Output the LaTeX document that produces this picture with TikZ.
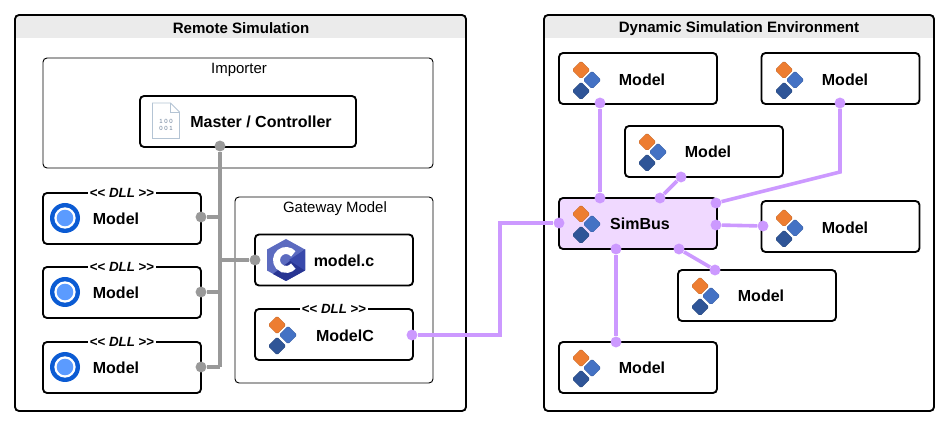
\documentclass[tikz,border=0pt]{standalone}
\usepackage{fontspec}
\setmainfont{Liberation Sans}
\definecolor{headgray}{HTML}{EBEBEB}
\definecolor{wirepurple}{HTML}{CC99FF}
\definecolor{wiregray}{HTML}{999999}
\definecolor{busfill}{HTML}{F0D9FF}
\definecolor{iconorange}{HTML}{ED7D31}
\definecolor{iconblue}{HTML}{4472C4}
\definecolor{icondark}{HTML}{2F5597}
\definecolor{ringblue}{HTML}{0B5BD3}
\definecolor{ringcore}{HTML}{5B9BFF}
\definecolor{cpale}{HTML}{5C6BC0}
\definecolor{cdeep}{HTML}{283593}
\definecolor{cmid}{HTML}{3949AB}
\definecolor{fileline}{HTML}{B4C4D4}
\definecolor{filetext}{HTML}{6A7F99}
\tikzset{
  panel/.style={draw=black, line width=1.4pt, rounded corners=3pt, outer sep=0pt, inner sep=0pt, minimum width=338.25pt, minimum height=297pt},
  group/.style={draw=black, line width=0.7pt, rounded corners=3pt, outer sep=0pt, inner sep=0pt},
  block/.style={draw=black, fill=white, line width=1.4pt, rounded corners=3pt, outer sep=0pt, inner sep=0pt, minimum width=118.5pt, minimum height=38.25pt},
  title/.style={font=\fontsize{11.3pt}{13pt}\selectfont\bfseries},
  caption/.style={font=\fontsize{11.2pt}{13pt}\selectfont},
  label/.style={font=\fontsize{12pt}{14pt}\selectfont\bfseries},
  dlltag/.style={fill=white, inner sep=1.5pt, font=\fontsize{10pt}{12pt}\selectfont\bfseries},
  grayport/.style={circle, fill=wiregray, inner sep=0pt, minimum size=8.2pt},
  purpleport/.style={circle, fill=wirepurple, inner sep=0pt, minimum size=8.2pt},
  graywire/.style={draw=wiregray, line width=2.7pt},
  purplewire/.style={draw=wirepurple, line width=2.7pt},
  pics/diamonds/.style={code={
    \fill[iconorange, draw=iconorange!80!black, line width=0.2pt, rounded corners=1.2pt] (-11,-19) -- (-2,-10) -- (-11,-1) -- (-20,-10) -- cycle;
    \fill[iconblue, draw=iconblue!80!black, line width=0.2pt, rounded corners=1.2pt] (0,-9) -- (9,0) -- (0,9) -- (-9,0) -- cycle;
    \fill[icondark, draw=icondark!80!black, line width=0.2pt, rounded corners=1.2pt] (-11,2) -- (-2,11) -- (-11,20) -- (-20,11) -- cycle;
  }},
  pics/ringicon/.style={code={
    \fill[ringblue] (0,0) circle (11.25pt);
    \fill[white] (0,0) circle (8pt);
    \fill[ringcore] (0,0) circle (6.2pt);
  }}
}
\newcommand{\dllmark}{<{}< \textit{DLL} >{}>}
\begin{document}
\begin{tikzpicture}[x=0.75pt, y=-0.75pt]
  \useasboundingbox (0,0) rectangle (950,427);

  % left panel
  \fill[headgray] (15,38) [rounded corners=3pt] -- (15,15) -- (466,15) [sharp corners] -- (466,38) -- cycle;
  \node (remote) at (240.5,213) [panel] {};
  \node (remotetitle) at (241,28) [title] {Remote Simulation};
  \node (importer) at (238,113) [group, minimum width=292.5pt, minimum height=82.5pt] {};
  \node (importertext) at (239,70) [caption] {Importer};
  \node (gateway) at (334,290) [group, minimum width=148.5pt, minimum height=139.5pt] {};
  \node (gatewaytext) at (335,209) [caption] {Gateway Model};

  % right panel
  \fill[headgray] (544,38) [rounded corners=3pt] -- (544,15) -- (934,15) [sharp corners] -- (934,38) -- cycle;
  \node (dynamic) at (739,213) [panel, minimum width=292.5pt] {};
  \node (dynamictitle) at (739,29) [title] {Dynamic Simulation Environment};

  % left blocks
  \node (master) at (248,121.5) [block, minimum width=162pt] {};
  \node (dllA) at (122,218.5) [block] {};
  \node (dllB) at (122,292.5) [block] {};
  \node (dllC) at (122,367.5) [block] {};
  \node (cfile) at (334,260) [block] {};
  \node (modelc) at (334,334.5) [block] {};

  % right blocks
  \node (modelA) at (638,78.5) [block] {};
  \node (modelB) at (840.5,78.5) [block] {};
  \node (modelC) at (704,151.5) [block] {};
  \node (simbus) at (638,223.5) [block, fill=busfill] {};
  \node (modelD) at (840.5,226.5) [block] {};
  \node (modelE) at (757,295.5) [block] {};
  \node (modelF) at (638,367.5) [block] {};

  \node (mastertext) at (261,122) [label] {Master / Controller};
  \node (dlltextA) at (116,219) [label] {Model};
  \node (dlltextB) at (116,293) [label] {Model};
  \node (dlltextC) at (116,368) [label] {Model};
  \node (cfiletext) at (344,261) [label] {model.c};
  \node (modelctext) at (345,336) [label] {ModelC};
  \node (textA) at (642,80) [label] {Model};
  \node (textB) at (845,80) [label] {Model};
  \node (textC) at (708,152) [label] {Model};
  \node (bustext) at (640,224) [label] {SimBus};
  \node (textD) at (845,228) [label] {Model};
  \node (textE) at (761,296) [label] {Model};
  \node (textF) at (642,368) [label] {Model};

  \node (tagA) at (122,193) [dlltag] {\dllmark};
  \node (tagB) at (122,267) [dlltag] {\dllmark};
  \node (tagC) at (122,342) [dlltag] {\dllmark};
  \node (tagD) at (334,309) [dlltag] {\dllmark};

  % icons
  \pic at (65,218) {ringicon};
  \pic at (65,292) {ringicon};
  \pic at (65,367) {ringicon};
  \pic at (288,335) {diamonds};
  \pic at (592,80) {diamonds};
  \pic at (795,80) {diamonds};
  \pic at (658,152) {diamonds};
  \pic at (592,224) {diamonds};
  \pic at (795,228) {diamonds};
  \pic at (711,296) {diamonds};
  \pic at (592,368) {diamonds};

  % binary file
  \draw[fileline, line width=0.6pt, fill=white] (152.5,103) -- (170.5,103) -- (179.5,112) -- (179.5,138.5) -- (152.5,138.5) -- cycle;
  \draw[fileline, line width=0.6pt] (170.5,103) -- (170.5,112) -- (179.5,112);
  \node (binA) at (166,121) [inner sep=0pt, text=filetext, font=\fontsize{4.5pt}{5pt}\selectfont] {1 0 0};
  \node (binB) at (166,128.5) [inner sep=0pt, text=filetext, font=\fontsize{4.5pt}{5pt}\selectfont] {0 0 1};

  % C logo
  \fill[cpale] (286,239) -- (305,249.5) -- (305,270.5) -- (286,281) -- (267,270.5) -- (267,249.5) -- cycle;
  \fill[cdeep] (305,249.5) -- (305,270.5) -- (286,281) -- (273,274) -- cycle;
  \fill[cmid] (305,249.5) -- (305,270.5) -- (289,260) -- cycle;
  \draw[white, line width=5.2pt] (293.3,253.9) arc[start angle=-40, end angle=-320, radius=9.5];

  % ports
  \node (pmaster) at (220,146) [grayport] {};
  \node (pdllA) at (201,217) [grayport] {};
  \node (pdllB) at (201,292) [grayport] {};
  \node (pdllC) at (201,367) [grayport] {};
  \node (pcfile) at (255,260) [grayport] {};
  \coordinate (trunkend) at (220,367);
  \node (pmodelc) at (412,335) [purpleport] {};
  \node (pbusL) at (559,223) [purpleport] {};
  \coordinate (bendA) at (500,335);
  \coordinate (bendB) at (500,223);
  \node (pA) at (600,103) [purpleport] {};
  \node (pbusA) at (600,198) [purpleport] {};
  \node (pB) at (840,103) [purpleport] {};
  \coordinate (bendC) at (840,172);
  \node (pbusB) at (716,203) [purpleport] {};
  \node (pC) at (681,177) [purpleport] {};
  \node (pbusC) at (660,198) [purpleport] {};
  \node (pD) at (763,226) [purpleport] {};
  \node (pbusD) at (716,225) [purpleport] {};
  \node (pE) at (715,270) [purpleport] {};
  \node (pbusE) at (679,249) [purpleport] {};
  \node (pF) at (616,342) [purpleport] {};
  \node (pbusF) at (616,249) [purpleport] {};

  % connectors
  \draw[graywire] (pmaster) -- (trunkend);
  \draw[graywire] (pdllA) -- (pdllA -| pmaster);
  \draw[graywire] (pdllB) -- (pdllB -| pmaster);
  \draw[graywire] (pdllC) -- (trunkend);
  \draw[graywire] (pcfile) -- (pcfile -| pmaster);
  \draw[purplewire] (pmodelc) -- (bendA) -- (bendB) -- (pbusL);
  \draw[purplewire] (pA) -- (pbusA);
  \draw[purplewire] (pB) -- (bendC) -- (pbusB);
  \draw[purplewire] (pC) -- (pbusC);
  \draw[purplewire] (pD) -- (pbusD);
  \draw[purplewire] (pE) -- (pbusE);
  \draw[purplewire] (pF) -- (pbusF);
\end{tikzpicture}
\end{document}
